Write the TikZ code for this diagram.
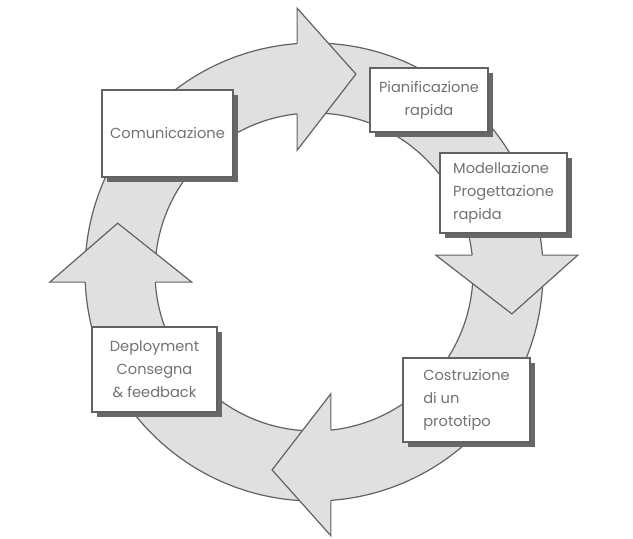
\documentclass[tikz,border=0pt]{standalone}
\usepackage{fontspec}
\setmainfont{Poppins}
\usetikzlibrary{calc,shadows}
\definecolor{ringgray}{HTML}{E0E0E0}
\definecolor{edgegray}{HTML}{626262}
\definecolor{textgray}{HTML}{727272}
\definecolor{shadegray}{HTML}{686868}
\begin{document}
\begin{tikzpicture}
[x=1pt,y=1pt,
  boxdecorate/.style={draw=edgegray,line width=1.2pt,fill=white,text=textgray,%
    font=\fontsize{14.6}{23}\selectfont,inner sep=0pt,%
    drop shadow={shadow xshift=5pt,shadow yshift=-5pt,fill=shadegray,opacity=1}},%
  ringdecorate/.style={draw=edgegray,line width=1.2pt,fill=ringgray}]
\useasboundingbox (0,0) rectangle (633,539);
\coordinate (centre) at (314,267);
%% ring
\fill[ringgray,even odd rule] (centre) circle (229pt) (centre) circle (159pt);
\draw[edgegray,line width=1.2pt] (centre) circle (229pt) (centre) circle (159pt);
%% arrow heads, back edge kept square to the page
\foreach \ang/\axis in {95/90,5/0,-85/-90,183/180} {
  \coordinate (back) at ($(centre)+(\ang:193.5pt)$);
  \filldraw[ringdecorate] ($(back)+(\axis:35.5pt)$) -- ($(back)+(\axis:71pt)$)
    -- ($(back)+(\ang-90:59pt)$)
    -- ($(back)-(\axis:71pt)$) -- ($(back)-(\axis:34.5pt)$);
}
%% boxes
\foreach \nodename/\x/\y/\w/\h/\al/\txt in {
  comunicazione/167.5/405.5/131pt/87pt/center/{Comunicazione},
  pianificazione/429/439/118pt/64pt/center/{Pianificazione\\rapida},
  modellazione/503.5/346/127pt/80pt/left/{Modellazione\\Progettazione\\rapida},
  costruzione/466.5/139/127pt/84pt/left/{Costruzione\\di un\\prototipo},
  deployment/154.5/169.5/125pt/85pt/center/{Deployment\\Consegna\\\& feedback}} {
  \node (\nodename) at (\x,\y) [boxdecorate,minimum width=\w,minimum height=\h,align=\al] {\txt};
}
\end{tikzpicture}
\end{document}
